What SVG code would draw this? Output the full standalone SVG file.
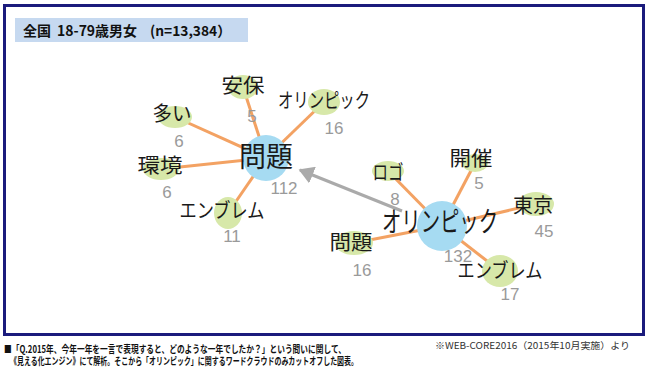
<svg xmlns="http://www.w3.org/2000/svg" width="650" height="372" viewBox="0 0 650 372">
<defs>
<style>
.frame{fill:#fff;stroke:#1b1b7c;stroke-width:3}
.title{font-family:"Noto Sans CJK JP","Liberation Sans",sans-serif;font-weight:bold;font-size:14px;fill:#111}
.edge{stroke:#f3a263;stroke-width:3;fill:none}
.arrow{stroke:#aaaaaa;stroke-width:3;fill:none}
.leaf{fill:#d7e8a9}
.hub{fill:#a6dbf2}
.w{font-family:"Noto Sans CJK JP",sans-serif;font-size:20px;fill:#1a1a1a;text-anchor:middle}
.big{font-family:"Noto Sans CJK JP",sans-serif;font-size:28px;fill:#1a1a1a;text-anchor:middle}
.n{font-family:"Liberation Sans",Arial,sans-serif;font-size:17px;fill:#9a9a9a;text-anchor:middle}
.foot{font-family:"Noto Sans CJK JP",sans-serif;font-weight:bold;font-size:10px;fill:#111}
.note{font-family:"Noto Sans CJK JP",sans-serif;font-size:9.5px;fill:#333}
</style>
<marker id="ah" markerWidth="6" markerHeight="6" refX="4.5" refY="3" orient="auto" markerUnits="strokeWidth">
<path d="M0,0 L5,3 L0,6 Z" fill="#aaaaaa"/>
</marker>
</defs>
<rect width="650" height="372" fill="#fff"/>
<rect class="frame" x="4.5" y="5.5" width="639" height="329"/>
<g id="title">
<rect x="15" y="18" width="233" height="24" fill="#c6d9f0"/>
<text class="title" x="23" y="35.5">全国</text>
<text class="title" x="57" y="35.5" textLength="80" lengthAdjust="spacingAndGlyphs">18-79歳男女</text>
<text class="title" x="150" y="35.5" textLength="81" lengthAdjust="spacingAndGlyphs">(n=13,384）</text>
</g>
<g id="connectors">
<line class="edge" x1="266" y1="158" x2="243" y2="87"/>
<line class="edge" x1="266" y1="158" x2="324" y2="102"/>
<line class="edge" x1="266" y1="158" x2="175" y2="117"/>
<line class="edge" x1="266" y1="158" x2="161" y2="169"/>
<line class="edge" x1="266" y1="158" x2="228" y2="213"/>
<line class="edge" x1="442" y1="226" x2="388" y2="171"/>
<line class="edge" x1="442" y1="226" x2="475" y2="163"/>
<line class="edge" x1="442" y1="226" x2="536" y2="204"/>
<line class="edge" x1="442" y1="226" x2="354" y2="243"/>
<line class="edge" x1="442" y1="226" x2="500" y2="271"/>
<line class="arrow" x1="402" y1="211" x2="300" y2="170" marker-end="url(#ah)"/>
</g>
<g id="node-anpo"><ellipse class="leaf" cx="243" cy="87" rx="15" ry="12"/><text class="w" x="243" y="93" textLength="43" lengthAdjust="spacingAndGlyphs">安保</text><text class="n" x="252" y="122">5</text></g>
<g id="node-olympic-l"><ellipse class="leaf" cx="324" cy="102" rx="16" ry="13"/><text class="w" x="324" y="108" textLength="92" lengthAdjust="spacingAndGlyphs">オリンピック</text><text class="n" x="334" y="134">16</text></g>
<g id="node-ooi"><ellipse class="leaf" cx="175" cy="117" rx="17" ry="11"/><text class="w" x="172" y="121" textLength="39" lengthAdjust="spacingAndGlyphs">多い</text><text class="n" x="179" y="147">6</text></g>
<g id="node-kankyo"><ellipse class="leaf" cx="161" cy="169" rx="18" ry="11"/><text class="w" x="160" y="173" textLength="45" lengthAdjust="spacingAndGlyphs">環境</text><text class="n" x="167" y="198">6</text></g>
<g id="node-emblem-l"><ellipse class="leaf" cx="228" cy="213" rx="14" ry="16"/><text class="w" x="222" y="218" textLength="85" lengthAdjust="spacingAndGlyphs">エンブレム</text><text class="n" x="232" y="242">11</text></g>
<g id="node-mondai"><circle class="hub" cx="266" cy="158" r="23"/><text class="big" x="266" y="167" textLength="54" lengthAdjust="spacingAndGlyphs">問題</text><text class="n" x="284" y="194">112</text></g>
<g id="node-logo"><ellipse class="leaf" cx="388" cy="171" rx="16" ry="10"/><text class="w" x="388" y="180" textLength="31" lengthAdjust="spacingAndGlyphs">ロゴ</text><text class="n" x="395" y="205">8</text></g>
<g id="node-kaisai"><ellipse class="leaf" cx="475" cy="163" rx="13" ry="9"/><text class="w" x="471" y="166" textLength="43" lengthAdjust="spacingAndGlyphs">開催</text><text class="n" x="479" y="189">5</text></g>
<g id="node-tokyo"><ellipse class="leaf" cx="536" cy="204" rx="18" ry="12"/><text class="w" x="533" y="213" textLength="40" lengthAdjust="spacingAndGlyphs">東京</text><text class="n" x="544" y="237">45</text></g>
<g id="node-mondai-r"><ellipse class="leaf" cx="354" cy="243" rx="19" ry="12"/><text class="w" x="351" y="250" textLength="43" lengthAdjust="spacingAndGlyphs">問題</text><text class="n" x="362" y="276">16</text></g>
<g id="node-emblem-r"><ellipse class="leaf" cx="500" cy="271" rx="18" ry="16"/><text class="w" x="500" y="278" textLength="85" lengthAdjust="spacingAndGlyphs">エンブレム</text><text class="n" x="510" y="300">17</text></g>
<g id="node-olympic"><circle class="hub" cx="442" cy="226" r="25"/><text class="big" x="440" y="232" textLength="116" lengthAdjust="spacingAndGlyphs">オリンピック</text><text class="n" x="458" y="262">132</text></g>
<g id="footer">
<text class="foot" x="4" y="353" textLength="342" lengthAdjust="spacingAndGlyphs">■「Q.2015年、今年一年を一言で表現すると、どのような一年でしたか？」という問いに関して、</text>
<text class="foot" x="10" y="365" textLength="348" lengthAdjust="spacingAndGlyphs">《見える化エンジン》にて解析。そこから「オリンピック」に関するワードクラウドのみカットオフした図表。</text>
<text class="note" x="435" y="349" textLength="195" lengthAdjust="spacingAndGlyphs">※WEB-CORE2016（2015年10月実施）より</text>
</g>
</svg>
